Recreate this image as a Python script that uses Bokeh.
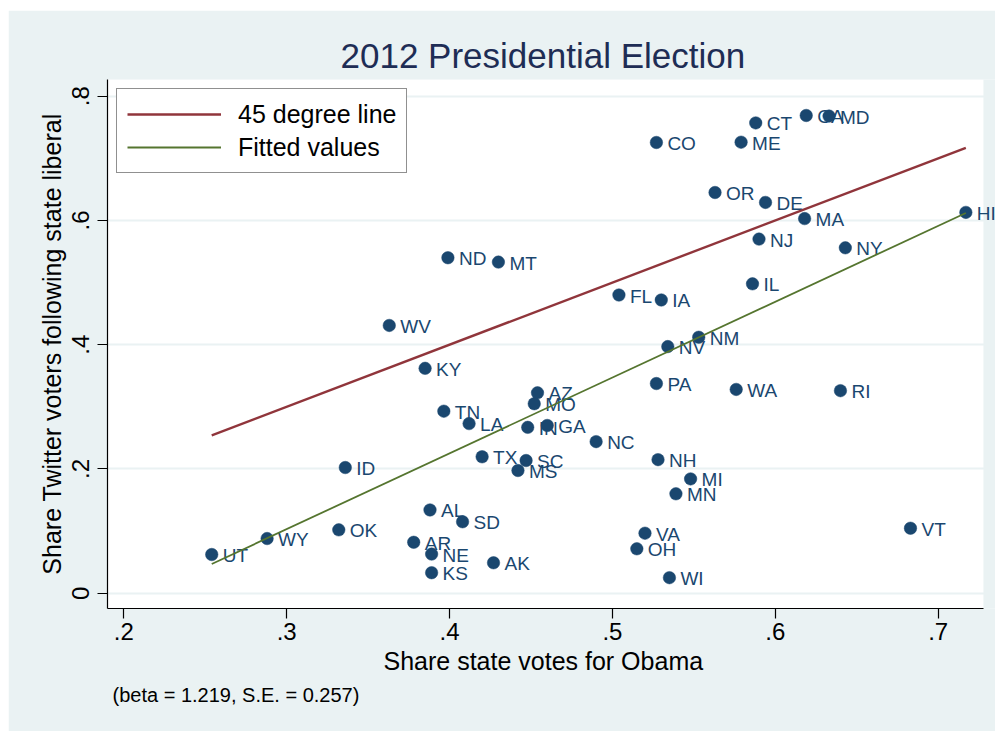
from bokeh.plotting import figure
from bokeh.models import (Range1d, FixedTicker, CustomJSTickFormatter, Legend,
                          LegendItem, Title, ColumnDataSource, LabelSet,
                          BoxAnnotation)
from bokeh.embed import file_html
from bokeh.resources import INLINE
from bokeh.core.properties import value

# ---------------- data ----------------
states = ["AL", "AK", "AZ", "AR", "CA", "CO", "CT", "DE", "FL", "GA",
          "HI", "ID", "IL", "IN", "IA", "KS", "KY", "LA", "ME", "MD",
          "MA", "MI", "MN", "MS", "MO", "MT", "NE", "NV", "NH", "NJ",
          "NM", "NY", "NC", "ND", "OH", "OK", "OR", "PA", "RI", "SC",
          "SD", "TN", "TX", "UT", "VT", "VA", "WA", "WV", "WI", "WY"]
obama = [0.388, 0.427, 0.454, 0.378, 0.619, 0.527, 0.588, 0.594, 0.504, 0.460,
         0.717, 0.336, 0.586, 0.448, 0.530, 0.389, 0.385, 0.412, 0.579, 0.633,
         0.618, 0.548, 0.539, 0.442, 0.452, 0.430, 0.389, 0.534, 0.528, 0.590,
         0.553, 0.643, 0.490, 0.399, 0.515, 0.332, 0.563, 0.527, 0.640, 0.447,
         0.408, 0.3965, 0.420, 0.254, 0.683, 0.520, 0.576, 0.363, 0.535, 0.288]
twitter = [0.134, 0.049, 0.3226, 0.082, 0.769, 0.7255, 0.757, 0.629, 0.480, 0.270,
           0.613, 0.2023, 0.498, 0.267, 0.472, 0.033, 0.362, 0.273, 0.726, 0.768,
           0.603, 0.184, 0.160, 0.1975, 0.305, 0.533, 0.063, 0.397, 0.215, 0.570,
           0.412, 0.556, 0.244, 0.540, 0.0715, 0.102, 0.645, 0.3375, 0.326, 0.2136,
           0.115, 0.293, 0.2196, 0.0623, 0.1046, 0.0966, 0.328, 0.431, 0.025, 0.088]

# fitted-values line end points
fit_x = [0.254, 0.717]
fit_y = [0.047, 0.612]

x_ticks = [0.2, 0.3, 0.4, 0.5, 0.6, 0.7]
x_tick_labels = [".2", ".3", ".4", ".5", ".6", ".7"]
y_ticks = [0.0, 0.2, 0.4, 0.6, 0.8]
y_tick_labels = ["0", ".2", ".4", ".6", ".8"]

title_text = "2012 Presidential Election"
x_title = "Share state votes for Obama"
y_title = "Share Twitter voters following state liberal"
note_text = "(beta = 1.219, S.E. = 0.257)"
legend_labels = ["45 degree line", "Fitted values"]

# 45 degree line spans the range of the data
diag_x = [min(obama), max(obama)]
diag_y = list(diag_x)

# axis extents
X_MIN, X_PLOT_MAX, X_VIEW_MAX = 0.190, 0.7278, 0.7352
Y_MIN, Y_MAX = -0.0246, 0.8269

# ---------------- styling ----------------
FONT = "Liberation Sans"
NAVY = "#1A476F"
MAROON = "#90353B"
GREEN = "#55752F"
BG = "#EAF2F3"

p = figure(width=987, height=721, output_backend="svg", toolbar_location=None,
           x_range=Range1d(X_MIN, X_VIEW_MAX), y_range=Range1d(Y_MIN, Y_MAX),
           min_border_left=99, min_border_right=0, min_border_top=69,
           min_border_bottom=123, background_fill_color=BG,
           border_fill_color=BG, outline_line_color=None)
p.margin = (10, 0, 0, 8)

# white plot region (stops short of the right edge, like the reference)
plot_region = BoxAnnotation(left=X_MIN, right=X_PLOT_MAX, fill_color="white",
                            fill_alpha=1.0, line_color=None, level="image")
p.add_layout(plot_region)

# title, left-aligned with an offset so it is centred over the white region
p.title.text = title_text
p.title.align = "left"
p.title.offset = 233
p.title.text_font = FONT
p.title.text_font_size = "35px"
p.title.text_font_style = "normal"
p.title.text_color = "#1E2D55"
p.title.standoff = 9

src = ColumnDataSource(dict(x=obama, y=twitter, state=states))
p.scatter("x", "y", source=src, size=12.5, fill_color=NAVY, line_color=NAVY,
          line_width=0.5)
labels = LabelSet(x="x", y="y", text="state", source=src, x_offset=11,
                  y_offset=-1, text_font=value(FONT), text_font_size="19px",
                  text_color=NAVY, text_baseline="middle", text_align="left",
                  level="underlay")
p.add_layout(labels)

r_diag = p.line(diag_x, diag_y, line_color=MAROON, line_width=2.4)
r_fit = p.line(fit_x, fit_y, line_color=GREEN, line_width=1.8)

legend = Legend(items=[LegendItem(label=legend_labels[0], renderers=[r_diag]),
                       LegendItem(label=legend_labels[1], renderers=[r_fit])],
                location="top_left", margin=9, padding=10, spacing=3,
                glyph_width=94, glyph_height=30, label_height=30,
                label_standoff=17, label_text_font=FONT,
                label_text_font_size="25px", label_text_color="black",
                border_line_color="#222222", border_line_width=1.3,
                background_fill_color="white", background_fill_alpha=1.0)
p.add_layout(legend, "center")

fmt_code = """
let best = 0;
for (let i = 0; i < tvals.length; i++) {
  if (Math.abs(tvals[i] - tick) < Math.abs(tvals[best] - tick)) best = i;
}
return tlabels[best];
"""

# x axis
xa = p.xaxis[0]
xa.ticker = FixedTicker(ticks=x_ticks)
xa.formatter = CustomJSTickFormatter(args=dict(tvals=x_ticks, tlabels=x_tick_labels), code=fmt_code)
xa.bounds = (X_MIN, X_PLOT_MAX)
# y axis
ya = p.yaxis[0]
ya.ticker = FixedTicker(ticks=y_ticks)
ya.formatter = CustomJSTickFormatter(args=dict(tvals=y_ticks, tlabels=y_tick_labels), code=fmt_code)
ya.axis_label = y_title
ya.major_label_orientation = "vertical"

for ax in (xa, ya):
    ax.axis_line_color = "black"
    ax.axis_line_width = 1.2
    ax.major_tick_line_color = "black"
    ax.major_tick_line_width = 1.2
    ax.major_tick_out = 10
    ax.major_tick_in = 0
    ax.minor_tick_line_color = None
    ax.major_label_text_font = FONT
    ax.major_label_text_font_size = "24px"
    ax.major_label_text_color = "black"
    ax.axis_label_text_font = FONT
    ax.axis_label_text_font_size = "25px"
    ax.axis_label_text_font_style = "normal"
    ax.axis_label_text_color = "black"

xa.major_label_standoff = 4
ya.major_label_standoff = 8
ya.axis_label_standoff = 4

p.xgrid.grid_line_color = None
p.ygrid.ticker = FixedTicker(ticks=y_ticks)
p.ygrid.grid_line_color = BG
p.ygrid.grid_line_width = 2

# x-axis title as a below-title so it can be centred over the white region
xt = Title(text=x_title, align="left", offset=276, text_font=FONT,
           text_font_size="25px", text_font_style="normal",
           text_color="black", standoff=4)
p.add_layout(xt, "below")

note = Title(text=note_text, align="left", offset=5, text_font=FONT,
             text_font_size="20px", text_font_style="normal",
             text_color="black", standoff=11)
p.add_layout(note, "below")

open("out.html", "w").write(file_html(p, INLINE))
